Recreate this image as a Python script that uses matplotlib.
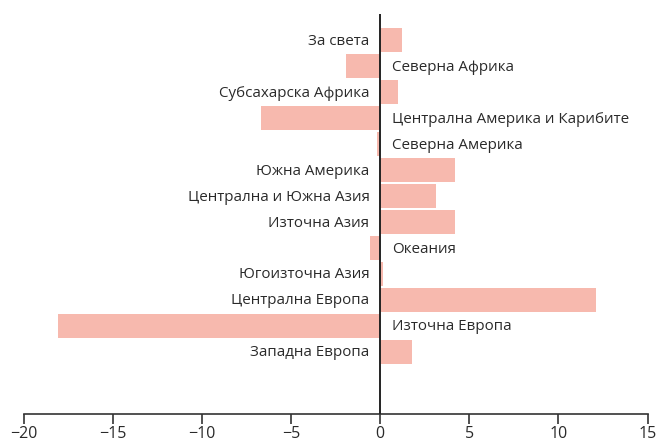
import matplotlib
matplotlib.use("Agg")
import matplotlib.pyplot as plt

regions = ["За света", "Северна Африка", "Субсахарска Африка",
           "Централна Америка и Карибите", "Северна Америка", "Южна Америка",
           "Централна и Южна Азия", "Източна Азия", "Океания",
           "Югоизточна Азия", "Централна Европа", "Източна Европа",
           "Западна Европа"]
values = [1.2, -1.9, 1.0, -6.7, -0.2, 4.2, 3.1, 4.2, -0.6, 0.15, 12.1, -18.1, 1.8]
xticks = [-20, -15, -10, -5, 0, 5, 10, 15]

plt.rcParams['font.family'] = ['Open Sans', 'DejaVu Sans']
fig = plt.figure(figsize=(6.57, 4.42), dpi=100)
L, R = 24.0, 647.5
ax = fig.add_axes([L / 657, 0.0643, (R - L) / 657, 0.9037])

ypos = list(range(len(regions)))
ax.barh(ypos, values, height=0.92, color="#F7B9AE", zorder=2)
ax.set_ylim(len(regions) - 1 + 2.37, -1)
ax.set_xlim(-20, 15)
ax.axvline(0, color="#222222", lw=1.4, zorder=3)

for y, name, v in zip(ypos, regions, values):
    if v >= 0:
        ax.annotate(name, (0, y), xytext=(-7.8, -0.7), textcoords="offset points",
                    ha="right", va="center", fontsize=10.9, color="#2a2a2a")
    else:
        ax.annotate(name, (0, y), xytext=(8.3, -0.7), textcoords="offset points",
                    ha="left", va="center", fontsize=10.9, color="#2a2a2a")

ax.set_xticks(xticks)
ax.set_xticklabels([("\u2212" + str(-t)) if t < 0 else str(t) for t in xticks])
ax.tick_params(axis="x", length=7, width=1.2, color="#333333", pad=2,
               labelsize=11.5, labelcolor="#2a2a2a")
ax.set_yticks([])
for s in ["top", "right", "left"]:
    ax.spines[s].set_visible(False)
ax.spines["bottom"].set_color("#333333")
ax.spines["bottom"].set_linewidth(1.2)

fig.savefig("out.png", dpi=100)
